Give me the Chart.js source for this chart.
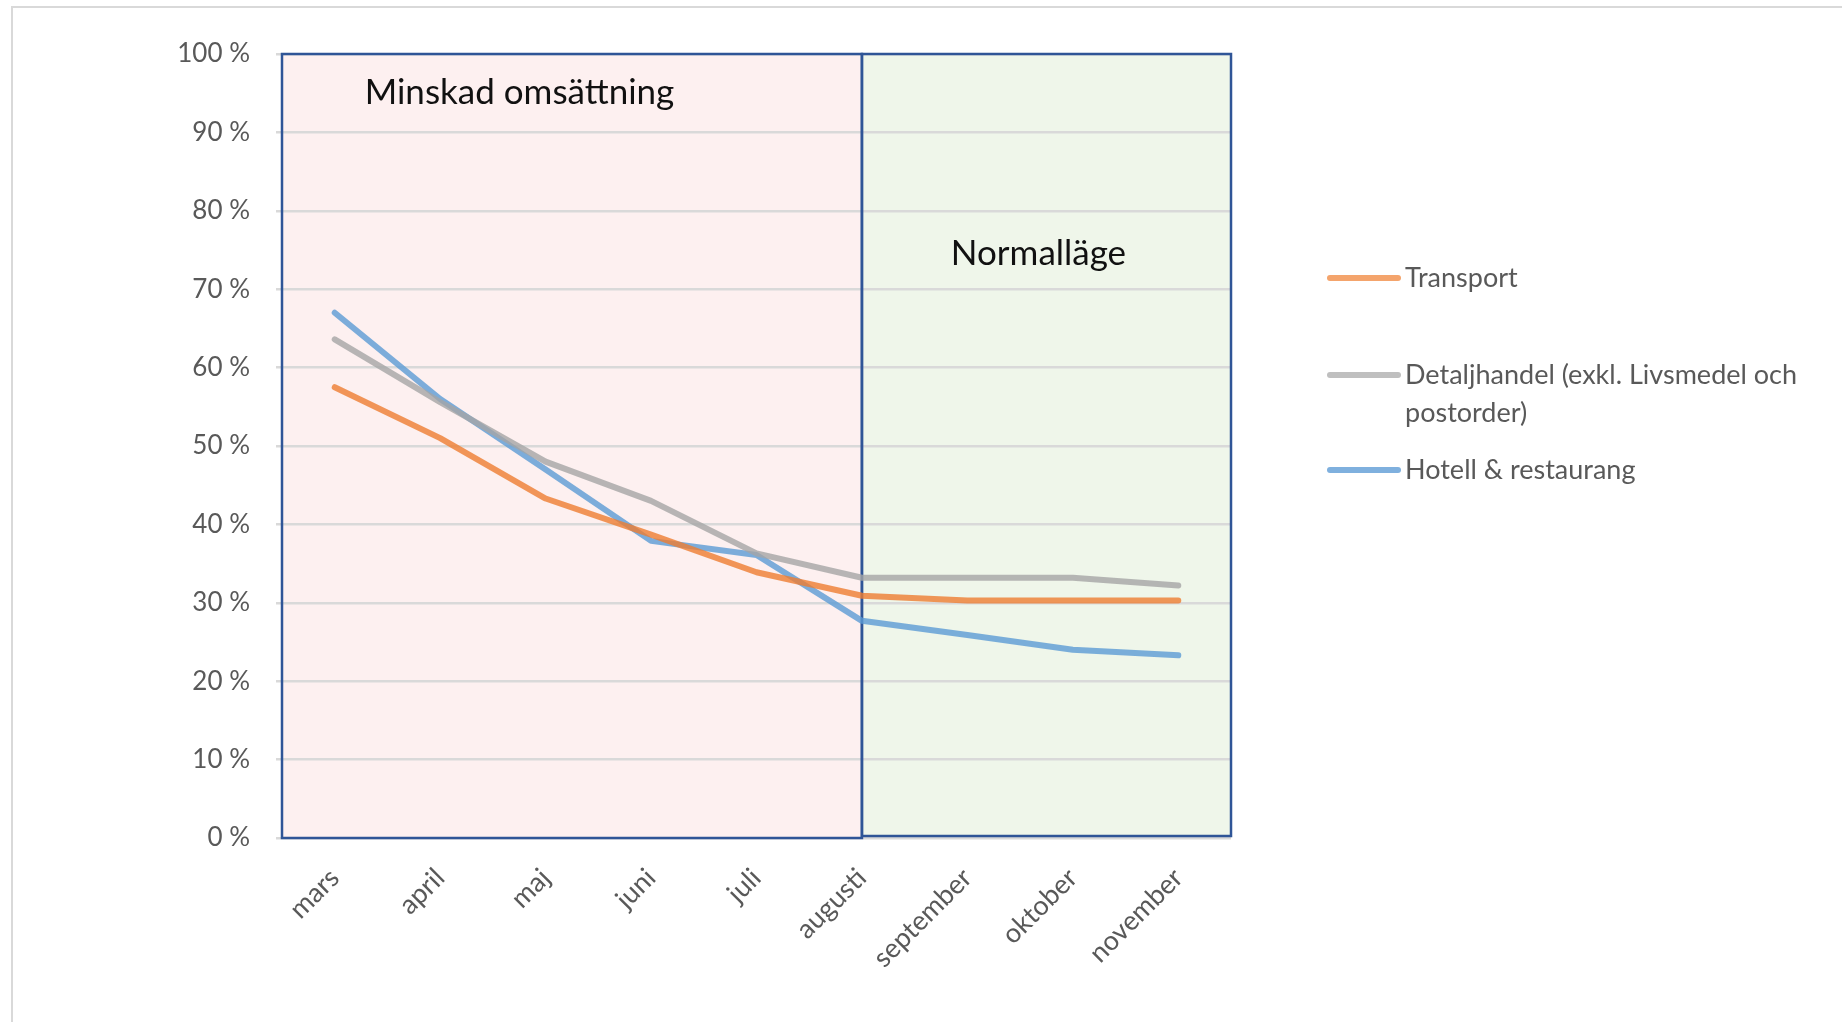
<!DOCTYPE html>
<html>
<head>
<meta charset="utf-8">
<script src="https://cdn.jsdelivr.net/npm/chart.js@4.4.1/dist/chart.umd.min.js"></script>
<style>
  html, body { margin: 0; padding: 0; background: #fff; }
  #wrap { width: 1842px; height: 1022px; }
</style>
</head>
<body>
<div id="wrap"><canvas id="chart" width="1842" height="1022"></canvas></div>
<script>
const months = ['mars', 'april', 'maj', 'juni', 'juli', 'augusti', 'september', 'oktober', 'november'];
const transport = [57.5, 51, 43.3, 38.7, 33.9, 30.9, 30.3, 30.3, 30.3];
const detaljhandel = [63.6, 55.6, 48, 43, 36.3, 33.2, 33.2, 33.2, 32.2];
const hotell = [67, 56, 47, 37.9, 36.1, 27.7, 25.9, 24, 23.3];
const seriesNames = ['Transport', 'Detaljhandel (exkl. Livsmedel och postorder)', 'Hotell & restaurang'];
const seriesColors = ['rgba(237,125,49,0.8)', 'rgba(165,165,165,0.8)', 'rgba(91,155,213,0.8)'];
const legendColors = ['#f4a46c', '#bfbfbf', '#7fb0de'];
const splitIndex = 5; // augusti
const FONT = 'Lato, "Open Sans", sans-serif';

// pink / green zones, blue frames and the two notes
const zonesPlugin = {
    id: 'zones',
    beforeDraw(chart) {
        const ctx = chart.ctx;
        ctx.save();
        ctx.strokeStyle = '#d9d9d9';
        ctx.lineWidth = 2;
        ctx.beginPath();
        ctx.moveTo(12, 1022);
        ctx.lineTo(12, 7);
        ctx.lineTo(1842, 7);
        ctx.stroke();

        const a = chart.chartArea;
        const x = chart.scales.x;
        const split = x.getPixelForValue(splitIndex);
        ctx.fillStyle = '#fdf0f0';
        ctx.fillRect(a.left, a.top, split - a.left, a.bottom - a.top);
        ctx.fillStyle = '#eff6ea';
        ctx.fillRect(split, a.top, a.right - split, a.bottom - a.top);
        ctx.restore();
    },
    beforeDatasetsDraw(chart) {
        const ctx = chart.ctx;
        const a = chart.chartArea;
        const x = chart.scales.x;
        const y = chart.scales.y;
        const split = x.getPixelForValue(splitIndex);
        ctx.save();
        ctx.strokeStyle = '#2f5597';
        ctx.lineWidth = 2.5;
        ctx.strokeRect(a.left, a.top, split - a.left, a.bottom - a.top);
        ctx.strokeRect(split, a.top, a.right - split, a.bottom - a.top - 2);

        ctx.fillStyle = '#111';
        ctx.font = '35px ' + FONT;
        ctx.textBaseline = 'middle';
        ctx.textAlign = 'left';
        ctx.fillText('Minskad omsättning', x.getPixelForValue(0) + 30, y.getPixelForValue(95));
        ctx.textAlign = 'center';
        ctx.fillText('Normalläge', (split + a.right) / 2 - 8, y.getPixelForValue(74.5));
        ctx.restore();
    }
};

// legend at the right, with wrapped text
const sideLegend = {
    id: 'sideLegend',
    afterDraw(chart) {
        const ctx = chart.ctx;
        ctx.save();
        ctx.font = '27px ' + FONT;
        ctx.fillStyle = '#595959';
        ctx.textBaseline = 'middle';
        ctx.lineCap = 'round';
        const rows = [278, 375, 470];
        chart.data.datasets.forEach((ds, i) => {
            const yy = rows[i];
            ctx.strokeStyle = legendColors[i];
            ctx.lineWidth = 6;
            ctx.beginPath();
            ctx.moveTo(1330, yy);
            ctx.lineTo(1398, yy);
            ctx.stroke();
            // simple word wrap
            const words = ds.label.split(' ');
            let line = '';
            let ly = yy;
            words.forEach(w => {
                const test = line ? line + ' ' + w : w;
                if (ctx.measureText(test).width > 425 && line) {
                    ctx.fillText(line, 1405, ly);
                    line = w;
                    ly += 38;
                } else {
                    line = test;
                }
            });
            ctx.fillText(line, 1405, ly);
        });
        ctx.restore();
    }
};

const datasets = [transport, detaljhandel, hotell].map((values, i) => ({
    label: seriesNames[i],
    data: values,
    borderColor: seriesColors[i],
    backgroundColor: seriesColors[i],
    borderWidth: 6,
    pointRadius: 0,
    tension: 0,
    borderJoinStyle: 'round',
    borderCapStyle: 'round',
    fill: false
}));

new Chart(document.getElementById('chart').getContext('2d'), {
    type: 'line',
    data: { labels: months, datasets: datasets },
    options: {
        responsive: false,
        animation: false,
        layout: { padding: { left: 0, top: 54, right: 611, bottom: 0 } },
        plugins: {
            legend: { display: false },
            tooltip: { enabled: false }
        },
        scales: {
            x: {
                offset: true,
                grid: { display: false },
                border: { display: false },
                ticks: {
                    color: '#595959',
                    font: { family: FONT, size: 27 },
                    minRotation: 45,
                    maxRotation: 45,
                    padding: 16
                },
                afterFit: (scale) => { scale.height = 184; }
            },
            y: {
                min: 0,
                max: 100,
                border: { display: false },
                grid: { color: '#d9d9d9', lineWidth: 2.5, tickLength: 6 },
                ticks: {
                    stepSize: 10,
                    color: '#595959',
                    font: { family: FONT, size: 26 },
                    padding: 26,
                    callback: (v) => v + ' %'
                },
                afterFit: (scale) => { scale.width = 282; }
            }
        }
    },
    plugins: [zonesPlugin, sideLegend]
});
</script>
</body>
</html>
